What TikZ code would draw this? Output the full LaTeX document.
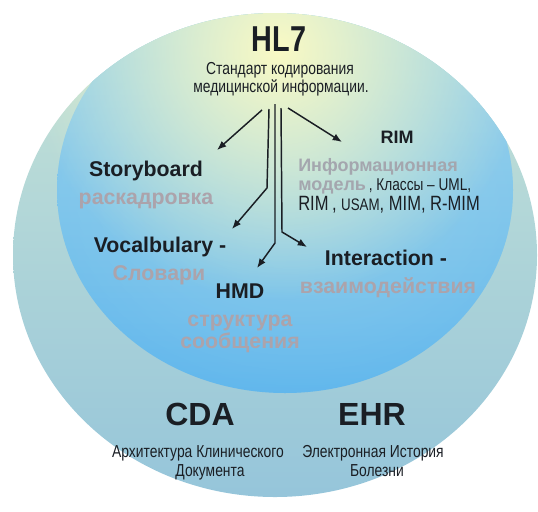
\documentclass[tikz,border=0pt]{standalone}
\usepackage{fontspec}
\setmainfont{Liberation Sans}
\newfontfamily\narrow[FakeStretch=0.8]{Liberation Sans}
\newfontfamily\hlfont[FakeStretch=0.8]{Liberation Sans}
\usetikzlibrary{fadings,arrows.meta}
\definecolor{outtop}{HTML}{C8E4D6}
\definecolor{outbot}{HTML}{94C4DA}
\definecolor{intop}{HTML}{98D2EC}
\definecolor{inbot}{HTML}{56B2EE}
\definecolor{glowc}{HTML}{FAFAC4}
\definecolor{midc}{HTML}{B4DEE6}
\definecolor{inkc}{HTML}{1A1E24}
\definecolor{ghost}{HTML}{ACA3AB}
\definecolor{ghostb}{HTML}{A4A6AE}
\tikzfading[name=glowfade, inner color=transparent!0, outer color=transparent!100]
\tikzfading[name=softfade, inner color=transparent!45, outer color=transparent!100]
\tikzset{
  lbl/.style={inner sep=0pt, anchor=base, text=inkc, font=\fontsize{16}{18}\selectfont\bfseries},
  ghosttxt/.style={inner sep=0pt, anchor=base, text=ghost, font=\fontsize{16}{18}\selectfont\bfseries},
  small/.style={inner sep=0pt, anchor=base, text=inkc, font=\narrow\fontsize{13}{15}\selectfont},
  big/.style={inner sep=0pt, anchor=base, text=inkc, font=\fontsize{24}{26}\selectfont\bfseries},
  conn/.style={draw=inkc, line width=1.1pt, -{Latex[length=7pt,width=5.5pt]}}
}
\begin{document}
\begin{tikzpicture}[x=0.75pt,y=-0.75pt]
\useasboundingbox (0,0) rectangle (538,511);
\begin{scope}
  \clip (275,255) ellipse [x radius=262, y radius=242];
  \shade[top color=outtop, bottom color=outbot] (0,0) rectangle (538,511);
  \begin{scope}
    \clip (285,190) ellipse [x radius=228, y radius=203];
    \shade[top color=intop, bottom color=inbot] (285,190) ellipse [x radius=228, y radius=203];
    \fill[midc, path fading=softfade] (300,160) ellipse [x radius=360, y radius=300];
  \end{scope}
  \fill[glowc, path fading=glowfade] (278,50) circle (250);
\end{scope}

% title
\node[inner sep=0pt, anchor=base, text=inkc, font=\hlfont\fontsize{27}{30}\selectfont\bfseries] (hl7) at (279,51) {HL7};
\node[small] (sub1) at (280,74) {Стандарт кодирования};
\node[small] (sub2) at (281,92) {медицинской информации.};

% branch labels
\node[lbl] (story) at (146,176) {Storyboard};
\node[ghosttxt] (storyru) at (146,204) {раскадровка};
\node[lbl] (vocab) at (160,252) {Vocalbulary -};
\node[ghosttxt] (vocabru) at (159,280) {Словари};
\node[lbl] (hmd) at (240,298) {HMD};
\node[ghosttxt] (hmdru1) at (240,326) {структура};
\node[ghosttxt] (hmdru2) at (240,348) {сообщения};
\node[lbl, font=\fontsize{13.5}{16}\selectfont\bfseries] (rim) at (397,143) {RIM};
\node[inner sep=0pt, anchor=base west, text=ghostb, font=\fontsize{13.5}{16}\selectfont\bfseries] (rimru) at (298,171) {Информационная};
\node[inner sep=0pt, anchor=base west, text=inkc] (rim2) at (298,190) {{\color{ghostb}\fontsize{13.5}{16}\selectfont\bfseries модель}\narrow\fontsize{12.8}{14}\selectfont\,, Классы – UML,};
\node[inner sep=0pt, anchor=base west, text=inkc, font=\narrow\fontsize{15.5}{18}\selectfont] (rim3) at (298,210) {RIM\,, {\fontsize{12.5}{14}\selectfont USAM}, MIM, R-MIM};
\node[lbl] (inter) at (386,265) {Interaction -};
\node[ghosttxt] (interru) at (388,293) {взаимодействия};

% bottom
\node[big] (cda) at (200,425) {CDA};
\node[big] (ehr) at (372,425) {EHR};
\node[small] (cda1) at (198,457) {Архитектура Клинического};
\node[small] (cda2) at (210,476) {Документа};
\node[small] (ehr1) at (373,457) {Электронная История};
\node[small] (ehr2) at (377,476) {Болезни};

% connectors
\coordinate (s1) at (262,110);
\coordinate (t1) at (217,150);
\coordinate (s2) at (288,108);
\coordinate (t2) at (342,142);
\coordinate (s3) at (269,109);
\coordinate (k3) at (267,188);
\coordinate (t3) at (232,229);
\coordinate (s4) at (275,104);
\coordinate (k4) at (275,243);
\coordinate (t4) at (257,268);
\coordinate (s5) at (281,108);
\coordinate (k5) at (282,232);
\coordinate (t5) at (307,247);
\draw[conn] (s1) -- (t1);
\draw[conn] (s2) -- (t2);
\draw[conn] (s3) -- (k3) -- (t3);
\draw[conn] (s4) -- (k4) -- (t4);
\draw[conn] (s5) -- (k5) -- (t5);
\end{tikzpicture}
\end{document}
